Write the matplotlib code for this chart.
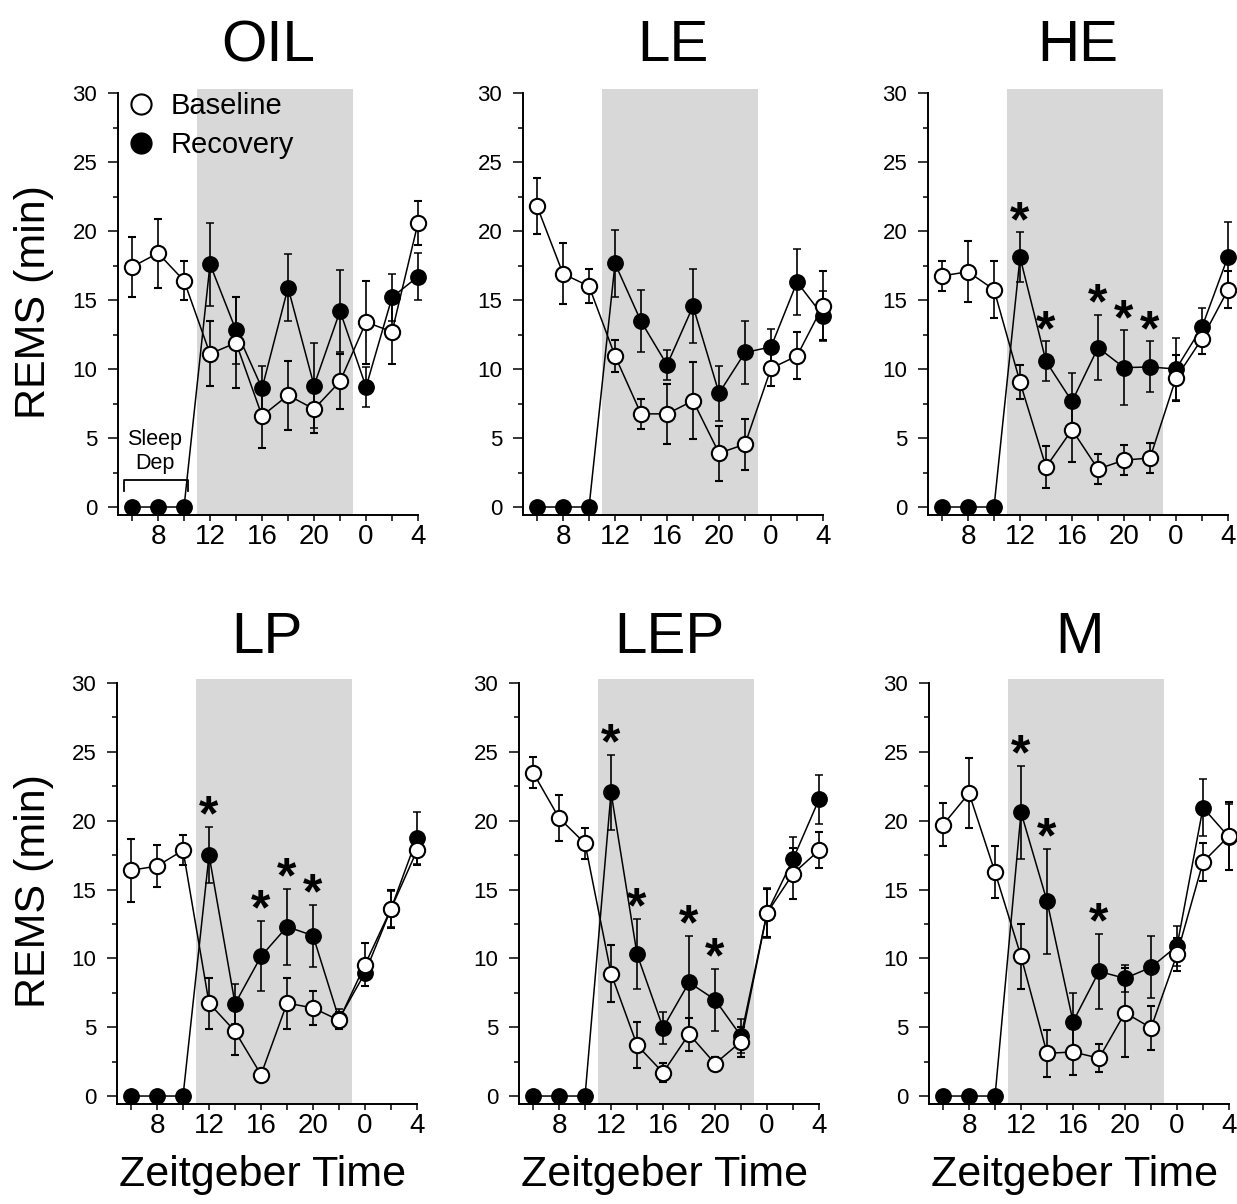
import matplotlib
matplotlib.use('Agg')
import matplotlib.pyplot as plt
from matplotlib.lines import Line2D

plt.rcParams['font.family'] = ['Liberation Sans', 'DejaVu Sans']

# ---------------- data ----------------
zt = [6, 8, 10, 12, 14, 16, 18, 20, 22, 24, 26, 28]
xtick_pos = [8, 12, 16, 20, 24, 28]
xtick_labels = ['8', '12', '16', '20', '0', '4']
xminor_pos = [6, 10, 14, 18, 22, 26]
ytick_pos = [0, 5, 10, 15, 20, 25, 30]
dark_start, dark_end = 11, 23
titles = ['OIL', 'LE', 'HE', 'LP', 'LEP', 'M']

oil_base = [17.4, 18.4, 16.4, 11.1, 11.9, 6.6, 8.1, 7.1, 9.1, 13.4, 12.7, 20.6]
oil_base_err = [2.2, 2.5, 1.4, 2.35, 3.3, 2.35, 2.5, 1.75, 2.0, 3.0, 2.3, 1.6]
oil_rec = [0, 0, 0, 17.6, 12.8, 8.6, 15.9, 8.8, 14.2, 8.7, 15.2, 16.7]
oil_rec_err = [0, 0, 0, 3.0, 2.4, 1.6, 2.4, 3.1, 3.0, 1.45, 1.7, 1.7]

le_base = [21.8, 16.9, 16.0, 10.95, 6.75, 6.75, 7.7, 3.9, 4.55, 10.05, 10.95, 14.6]
le_base_err = [2.05, 2.2, 1.25, 1.15, 1.1, 2.2, 2.8, 2.0, 1.85, 1.3, 1.7, 2.5]
le_rec = [0, 0, 0, 17.65, 13.45, 10.3, 14.55, 8.25, 11.2, 11.6, 16.3, 13.85]
le_rec_err = [0, 0, 0, 2.4, 2.25, 1.1, 2.7, 2.0, 2.3, 1.3, 2.4, 1.8]

he_base = [16.75, 17.05, 15.75, 9.05, 2.9, 5.6, 2.75, 3.4, 3.55, 9.35, 12.2, 15.75]
he_base_err = [1.1, 2.2, 2.05, 1.25, 1.55, 2.35, 1.1, 1.1, 1.1, 1.65, 1.1, 1.35]
he_rec = [0, 0, 0, 18.1, 10.55, 7.65, 11.55, 10.1, 10.15, 10.0, 13.05, 18.15]
he_rec_err = [0, 0, 0, 1.8, 1.45, 2.05, 2.35, 2.7, 1.85, 2.25, 1.35, 2.5]

lp_base = [16.4, 16.7, 17.85, 6.75, 4.7, 1.55, 6.75, 6.4, 5.5, 9.55, 13.6, 17.85]
lp_base_err = [2.3, 1.55, 1.1, 1.85, 1.7, 0.35, 1.85, 1.25, 0.6, 1.55, 1.4, 1.1]
lp_rec = [0, 0, 0, 17.5, 6.7, 10.15, 12.3, 11.65, 5.6, 8.95, 13.6, 18.75]
lp_rec_err = [0, 0, 0, 2.05, 1.45, 2.55, 2.75, 2.25, 0.7, 0.3, 1.3, 1.9]

lep_base = [23.5, 20.2, 18.35, 8.9, 3.7, 1.7, 4.5, 2.35, 3.95, 13.3, 16.15, 17.85]
lep_base_err = [1.1, 1.7, 1.1, 2.05, 1.65, 0.7, 1.2, 0.5, 1.1, 1.75, 1.85, 1.3]
lep_rec = [0, 0, 0, 22.05, 10.3, 4.95, 8.25, 7.0, 4.35, 13.3, 17.2, 21.55]
lep_rec_err = [0, 0, 0, 2.75, 2.55, 1.15, 3.35, 2.25, 1.25, 1.8, 1.6, 1.8]

m_base = [19.7, 22.0, 16.25, 10.15, 3.1, 3.2, 2.75, 6.05, 4.95, 10.3, 17.0, 18.9]
m_base_err = [1.55, 2.55, 1.9, 2.35, 1.7, 1.7, 1.0, 3.25, 1.6, 1.2, 1.35, 2.45]
m_rec = [0, 0, 0, 20.6, 14.15, 5.4, 9.05, 8.55, 9.35, 10.9, 20.95, 18.8]
m_rec_err = [0, 0, 0, 3.35, 3.8, 2.1, 2.7, 1.0, 2.25, 1.45, 2.05, 2.4]

stars_oil = []
stars_le = []
stars_he = [12, 14, 18, 20, 22]
stars_lp = [12, 16, 18, 20]
stars_lep = [12, 14, 18, 20]
stars_m = [12, 14, 18]

panels = [
    (oil_base, oil_base_err, oil_rec, oil_rec_err, stars_oil),
    (le_base, le_base_err, le_rec, le_rec_err, stars_le),
    (he_base, he_base_err, he_rec, he_rec_err, stars_he),
    (lp_base, lp_base_err, lp_rec, lp_rec_err, stars_lp),
    (lep_base, lep_base_err, lep_rec, lep_rec_err, stars_lep),
    (m_base, m_base_err, m_rec, m_rec_err, stars_m),
]

# ---------------- layout ----------------
W, H = 1237, 1204
fig = plt.figure(figsize=(W / 100, H / 100), dpi=100)

xl = (4.92, 28.0)
yl = (-0.55, 30.3)
px_per_hr = 13.0
ax_w = (xl[1] - xl[0]) * px_per_hr
row_top_px = [88.9, 678.9]
row_bot_px = [514.6, 1103.6]
col_left_px = [[118, 523, 928], [117, 519, 929]]

axes = []
for r in range(2):
    for c in range(3):
        left = col_left_px[r][c] / W
        bottom = 1 - row_bot_px[r] / H
        height = (row_bot_px[r] - row_top_px[r]) / H
        axes.append(fig.add_axes([left, bottom, ax_w / W, height]))

shade = '#d8d8d8'
for i, ax in enumerate(axes):
    base, base_err, rec, rec_err, stars = panels[i]
    ax.axvspan(dark_start, dark_end, color=shade, lw=0, zorder=0)

    ax.errorbar(zt, rec, yerr=rec_err, fmt='-o', color='black', mfc='black',
                mec='black', ms=11, mew=1.1, lw=1.1, elinewidth=1.2,
                capsize=3.2, capthick=1.2, zorder=3, clip_on=False)
    ax.errorbar(zt, base, yerr=base_err, fmt='-o', color='black', mfc='white',
                mec='black', ms=11, mew=1.5, lw=1.1, elinewidth=1.2,
                capsize=3.2, capthick=1.2, zorder=4, clip_on=False)

    for s in stars:
        k = zt.index(s)
        top = rec[k] + rec_err[k]
        ax.annotate('*', xy=(s, top), xytext=(0, -2.5), textcoords='offset points',
                    ha='center', va='baseline', fontsize=36, fontweight='bold',
                    zorder=6)

    ax.set_xlim(*xl)
    ax.set_ylim(*yl)
    for side in ['top', 'right']:
        ax.spines[side].set_visible(False)
    ax.spines['left'].set_bounds(yl[0], 30)
    ax.spines['bottom'].set_bounds(xl[0], 28)
    ax.spines['left'].set_linewidth(1.4)
    ax.spines['bottom'].set_linewidth(1.4)
    ax.set_xticks(xtick_pos)
    ax.set_xticklabels(xtick_labels)
    ax.set_xticks(xminor_pos, minor=True)
    ax.set_yticks(ytick_pos)
    ax.set_yticks([2.5, 7.5, 12.5, 17.5, 22.5, 27.5], minor=True)
    ax.tick_params(axis='x', which='both', direction='out', length=4.5,
                   width=1.1, labelsize=20, pad=2)
    ax.tick_params(axis='y', which='major', direction='out', length=7,
                   width=1.1, labelsize=16, pad=8)
    ax.tick_params(axis='y', which='minor', direction='out', length=3.6,
                   width=1.1)
    ax.patch.set_visible(False)

    r = i // 3
    ax.set_title(titles[i], fontsize=42, pad=20 if r == 0 else 19)

# y labels
for r in range(2):
    cy = 1 - (row_top_px[r] + row_bot_px[r]) / 2 / H
    fig.text(34 / W, cy, 'REMS (min)', rotation=90, ha='center', va='center',
             fontsize=31)

# x labels (bottom row)
for c in range(3):
    ax = axes[3 + c]
    pos = ax.get_position()
    fig.text(pos.x0 + pos.width / 2 - 4 / W, 1 - 1186 / H, 'Zeitgeber Time',
             ha='center', va='baseline', fontsize=31)

# legend in first panel
ax0 = axes[0]
handles = [
    Line2D([], [], marker='o', ls='none', mfc='white', mec='black', ms=14.5, mew=1.5),
    Line2D([], [], marker='o', ls='none', mfc='black', mec='black', ms=14.5, mew=1.5),
]
ax0.legend(handles, ['Baseline', 'Recovery'], loc='upper left',
           bbox_to_anchor=(0.028, 0.993), frameon=False, fontsize=21,
           handlelength=1.0, handletextpad=0.53, labelspacing=0.38,
           borderpad=0, borderaxespad=0)

# sleep deprivation bracket
ax0.plot([5.4, 5.4, 10.3, 10.3], [1.16, 1.96, 1.96, 1.16], color='black',
         lw=1.3, zorder=5, clip_on=False)
ax0.text(7.75, 2.4, 'Sleep\nDep', ha='center', va='bottom', fontsize=15.5,
         linespacing=1.2, zorder=5)

fig.savefig('out.png', dpi=100, facecolor='white')
